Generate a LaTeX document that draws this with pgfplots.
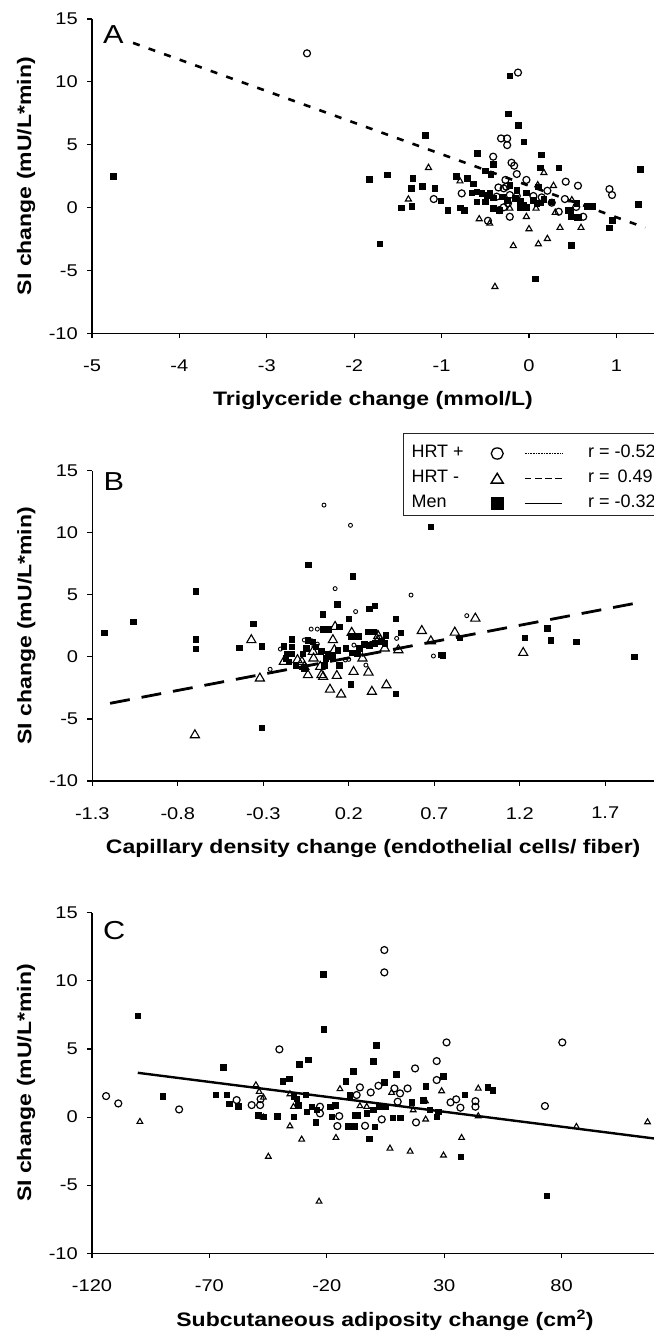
\documentclass[border=0pt]{standalone}
\usepackage{fontspec}
\setmainfont{Liberation Sans}[FakeStretch=1.18]
\newfontfamily\legfont{Liberation Sans}
\newcommand\lf{\legfont\fontsize{18bp}{20bp}\selectfont}
\usepackage{pgfplots}
\pgfplotsset{compat=1.18}
\usepackage{pgfplotstable}

% ---------------- Panel A ----------------
\pgfplotstableread{
x y
-2.54 12.27
-0.126 10.74
-0.32 5.5
-0.25 5.5
-0.25 4.97
-0.41 4.05
-0.2 3.57
-0.17 3.33
-0.14 2.67
-0.03 2.2
-0.27 2.2
-0.26 1.66
-0.35 1.6
-0.29 1.53
-0.37 0.87
-0.22 1.0
-0.14 0.92
-0.24 0.34
-0.29 0.02
0.05 0.92
0.145 0.81
0.21 1.34
0.26 0.39
0.34 -0.33
0.41 0.68
0.42 2.06
0.56 1.74
0.62 -0.73
-0.22 -0.73
-0.34 -0.2
-0.77 1.13
-1.09 0.68
-0.47 -1.05
0.92 1.47
0.95 1.0
0.54 0.05
}\AHRTp
\pgfplotstableread{
x y
-1.15 3.17
-1.38 0.66
-0.79 2.1
-0.57 -0.91
-0.45 -1.26
-0.39 -6.3
-0.18 -3.04
0 -1.7
0.107 -2.9
0.21 -2.48
0.355 -1.6
0.595 -1.6
0.08 -0.06
-0.03 -0.73
0.17 2.77
0.10 1.79
0.28 1.74
-0.22 -0.06
0.49 0.6
0.30 -0.4
}\AHRTm
\pgfplotstableread{
x y
-4.76 2.51
-0.22 10.48
-0.24 7.48
-0.126 6.55
-1.19 5.76
-0.06 5.25
-0.595 4.32
0.14 4.22
-0.41 3.45
-0.5 2.92
-0.44 2.64
0.34 3.18
0.13 3.18
1.27 3.05
-1.83 2.25
-1.62 2.6
-1.33 2.33
-1.35 1.54
-1.22 1.7
-1.08 1.54
-0.83 2.52
-0.71 2.33
-0.64 1.91
-1.46 0
-1.34 0.13
-1.01 0.56
-0.93 -0.19
-0.79 0
-0.74 -0.19
-1.71 -2.86
0.48 -2.97
0.07 -5.65
0.72 0.13
1.25 0.29
0.95 -1.0
0.92 -1.6
0.45 -0.2
0.55 -0.8
-0.656 1.18
-0.60 1.27
-0.54 1.13
-0.48 1.0
-0.45 1.18
-0.50 0.47
-0.60 0.47
-0.41 0.79
-0.31 0.87
-0.25 0.6
-0.16 0.73
-0.10 0.52
-0.065 0.2
-0.03 1.18
0.05 0.6
0.126 0.39
0.17 0.66
0.107 1.66
-0.41 -0.06
-0.34 -0.19
-0.10 0.02
-0.03 0.02
0.09 0.34
0.26 0.47
0.545 0.34
0.66 0.12
0.48 -0.72
0.565 -0.78
0.47 -0.19
-0.22 1.8
-0.14 1.4
}\AMen
\pgfplotstableread{
x y
-4.53 13.1
1.33 -1.6
}\ALine

% ---------------- Panel B ----------------
\pgfplotstableread{
x y
0.055 12.23
0.21 10.6
0.12 5.5
0.564 4.98
0.24 3.65
0.89 3.32
-0.2 0.63
-0.26 -1.0
-0.017 1.3
0.016 2.24
0.695 0.07
-0.06 1.36
-0.02 2.24
0.36 2.03
0.06 -0.74
0.3 -0.66
0.23 0.95
0.18 -0.25
0.2 -0.2
0.33 1.09
0.38 1.57
-0.004 0.87
0.016 1.03
0.48 1.49
}\BHRTp
\pgfplotstableread{
x y
-0.37 1.36
-0.70 -6.3
-0.32 -1.73
-0.074 -0.39
-0.006 -0.12
0.033 -0.79
0.05 -1.6
0.94 3.1
0.627 2.1
0.82 1.97
0.68 1.27
1.22 0.33
0.42 -2.27
0.335 -2.8
0.315 -1.25
0.155 -3.02
0.13 -1.52
0.09 -2.63
0.49 0.55
0.372 1.68
0.217 1.95
0.12 2.43
-0.039 -1.46
0.04 -1.46
0.228 -1.2
-0.06 -0.79
-0.18 -0.39
-0.1 -0.25
-0.01 0.42
0.116 0.55
0.107 1.36
0.088 0.01
0.37 1.36
0.41 0.69
0.28 -0.12
}\BHRTm
\pgfplotstableread{
x y
-1.23 1.94
-1.06 2.83
-0.694 5.3
-0.694 1.44
-0.694 0.68
-0.44 0.74
-0.36 2.65
-0.31 0.87
-0.31 -5.7
-0.18 0.87
-0.135 1.44
-0.135 0.82
-0.135 0.28
-0.037 7.45
-0.07 0.28
-0.06 -0.93
0.047 3.45
0.04 0.5
0.68 10.49
0.222 6.51
0.133 4.26
0.2 3.1
0.32 3.86
0.353 4.13
0.475 3.1
0.85 1.57
0.74 0.2
0.75 0.15
1.23 1.57
1.36 2.3
1.38 1.36
1.53 1.22
1.87 0.01
0.505 1.97
0.475 -2.96
0.21 -2.2
0.145 2.43
0.05 2.24
0.08 2.24
0.215 1.68
0.254 1.68
0.31 2.03
0.347 2.03
-0.039 1.36
-0.01 1.22
-0.05 0.69
0.007 0.82
0.036 0.42
0.075 0.28
0.104 0.15
0.065 -0.12
0.134 0.55
0.183 0.69
0.22 0.34
0.25 0.28
0.26 0.69
0.29 1.03
0.32 0.95
0.35 1.09
0.39 1.22
0.415 1.76
0.41 1.09
0.144 -0.66
0.056 -0.66
-0.16 0.28
-0.15 -0.39
-0.11 -0.66
-0.17 -0.12
}\BMen
\pgfplotstableread{
x y
-1.196 -3.74
1.922 4.44
}\BLine

% ---------------- Panel C ----------------
\pgfplotstableread{
x y
-114 1.54
-108.8 1.0
-82.9 0.56
-58.4 1.25
-52 0.88
-48.4 0.88
-48.2 1.32
-40.2 4.97
-22.9 0.76
-22.9 0.27
4.5 12.26
4.5 10.62
31.0 5.48
80.3 5.48
26.8 4.11
26.8 2.72
17.6 3.57
72.9 0.81
43.3 1.17
43.3 0.76
36.9 0.69
35.1 1.3
32.7 1.08
14.4 2.1
11.2 1.74
8.8 2.1
10.2 1.13
2.0 2.3
-1.3 1.81
-5.9 2.18
-7.3 1.62
-14.7 0.07
-15.5 -0.66
-3.7 -0.64
3.4 -0.17
18.0 -0.39
}\CHRTp
\pgfplotstableread{
x y
-99.6 -0.34
-50.2 2.35
-48.8 1.86
-47.0 1.44
-47.0 -0.02
-44.9 -2.9
-35.7 -0.66
-30.7 -1.64
-23.3 -6.2
-35.7 1.69
-34.2 0.76
-14.4 2.06
-5.9 0.81
7.6 1.79
28.9 1.91
44.5 2.1
22.0 1.17
22.1 -0.17
16.8 0.51
37.4 -1.52
29.7 -2.81
15.5 -2.52
6.9 -2.3
-16.1 -1.52
86.3 -0.71
116.6 -0.37
44.5 0.07
-3.0 0.76
}\CHRTm
\pgfplotstableread{
x y
-100.6 7.42
-89.9 1.54
-64.1 3.65
-67.2 1.66
-62.6 1.66
-61.5 1.0
-57.7 0.8
-49.2 0.15
-47 0.02
-41.1 0.07
-38.9 2.62
-36 2.81
-31.7 3.89
-27.9 4.23
-34.2 1.54
-32.8 1.37
-34.2 0.02
-32.1 0.88
-29 1.66
-26.4 0.76
-28.6 0.39
-24.3 0.56
-24.8 -0.39
-21.5 10.48
-21.2 6.46
1.1 5.29
-0.2 4.11
-8.8 3.38
-11.9 2.64
9.5 3.16
4.4 2.55
22.2 2.28
29.6 3.01
38.8 1.66
48.4 2.18
50.6 1.98
37.1 -2.91
73.6 -5.78
-18.6 0.76
-16.5 0.88
-17.9 0.02
-10.3 1.62
-8.2 0.15
-6.8 0.15
-3.0 0.27
-1.9 -1.57
0.5 -0.71
-10.9 -0.66
-8.2 -0.66
-0.2 0.56
4.8 0.76
8.0 -0.05
11.2 -0.05
16.1 1.08
21.1 1.25
23.9 0.56
26.8 0.02
27.5 0.39
2.0 0.76
}\CMen
\pgfplotstableread{
x y
-100.5 3.25
119.4 -1.57
}\CLine

\tikzset{panellabel/.style={anchor=north west, inner sep=0bp, font=\fontsize{26bp}{28bp}\selectfont}}
\pgfplotsset{
  panel/.style={
    scale only axis,
    axis x line*=bottom,
    axis y line*=left,
    ymin=-10, ymax=15,
    ytick={-10,-5,0,5,10,15},
    yticklabels={-10,-5,0,5,10,15},
    tick align=outside,
    major tick length=5bp,
    every tick/.style={black, line width=1.1bp},
    axis line style={black, line width=1.2bp},
    tick label style={font=\fontsize{17bp}{20bp}\selectfont, inner sep=0bp},
    yticklabel style={xshift=-9bp},
    xticklabel style={yshift=-21bp},
    ylabel={SI change (mU/L*min)},
    label style={font=\bfseries\fontsize{19.5bp}{23bp}\selectfont},
    ylabel style={at={(axis description cs:-0.1174,0.5)}, anchor=center},
    xlabel style={at={(axis description cs:0.5,0)}, anchor=center, yshift=-67bp},
    clip=false,
  },
  mHRTp/.style={only marks, forget plot, mark=o, mark options={black, fill=white, line width=1.2bp}},
  mHRTm/.style={only marks, forget plot, mark=triangle, mark options={black, fill=white, line width=1.1bp}},
  mMen/.style={only marks, forget plot, mark=square*, mark options={black, fill=black, line width=0.4bp}},
}

\begin{document}
\begin{tikzpicture}
\useasboundingbox (0,0) rectangle (654bp,-1335bp);

% ---------------- A ----------------
\begin{axis}[panel,
  at={(92bp,-333.3bp)}, anchor=south west,
  width=562bp, height=314.3bp,
  xmin=-5, xmax=1.43,
  xtick={-5,-4,-3,-2,-1,0,1},
  xticklabels={-5,-4,-3,-2,-1,0,1},
  xlabel={Triglyceride change (mmol/L)},
]
\addplot[forget plot, black, line width=2.6bp, dash pattern=on 7bp off 9.5bp] table {\ALine};
\addplot[mMen, mark size=2.8bp] table {\AMen};
\addplot[mHRTm, mark size=3.5bp] table {\AHRTm};
\addplot[mHRTp, mark size=3.5bp] table {\AHRTp};
\node[panellabel] at (rel axis cs:0.0196,0.981) {A};
\end{axis}

% ---------------- B ----------------
\begin{axis}[panel,
  at={(92.3bp,-781bp)}, anchor=south west,
  width=561.7bp, height=310.3bp,
  xmin=-1.3, xmax=1.985,
  xtick={-1.3,-0.8,-0.3,0.2,0.7,1.2,1.7},
  xticklabels={-1.3,-0.8,-0.3,0.2,0.7,1.2,1.7},
  xlabel={Capillary density change (endothelial cells/ fiber)},
  legend columns=2,
  legend cell align=left,
  legend style={at={(axis description cs:0.5537,1.1215)}, anchor=north west,
    draw=black!85, line width=1bp, inner xsep=0.5bp, inner ysep=4.3bp,
    row sep=9bp, column sep=0bp,
    nodes={inner sep=0bp, text height=12bp, text depth=4bp, font=\lf}},
]
\addplot[forget plot, black, line width=2.8bp, dash pattern=on 20bp off 12bp] table {\BLine};
\addplot[mMen, mark size=2.7bp] table {\BMen};
\addplot[mHRTm, mark size=5.3bp] table {\BHRTm};
\addplot[mHRTp, mark size=2.0bp, mark options={line width=0.9bp}] table {\BHRTp};
\node[panellabel] at (rel axis cs:0.0196,0.993) {B};

\addlegendimage{legend image code/.code={\path[draw=none,fill=none] (0bp,-8bp) rectangle (7.2bp,15.7bp);}}
\addlegendentry{\makebox[63bp][l]{\lf HRT +}}
\addlegendimage{legend image code/.code={
  \path[draw=none,fill=none] (0bp,-6bp) rectangle (113.7bp,6bp);
  \draw[black, line width=1.3bp] (22.7bp,0) ellipse (6bp and 5.6bp);
  \draw[black, line width=0.9bp, dash pattern=on 0.7bp off 0.9bp] (50.3bp,0) -- (87.7bp,0);}}
\addlegendentry{\makebox[66bp][l]{\lf r = -0.52}}
\addlegendimage{legend image code/.code={\path[draw=none,fill=none] (0bp,-1bp) rectangle (7.2bp,1bp);}}
\addlegendentry{\makebox[63bp][l]{\lf HRT -}}
\addlegendimage{legend image code/.code={
  \path[draw=none,fill=none] (0bp,-6bp) rectangle (113.7bp,6bp);
  \draw[black, line width=1.4bp, line join=miter] (16.7bp,-4.6bp) -- (28.7bp,-4.6bp) -- (22.7bp,5.2bp) -- cycle;
  \draw[black, line width=1.4bp, dash pattern=on 6.5bp off 3.7bp] (50.3bp,0) -- (87.7bp,0);}}
\addlegendentry{\makebox[66bp][l]{\lf r =\ \,0.49}}
\addlegendimage{legend image code/.code={
  \path[draw=none,fill=none] (0bp,-1bp) rectangle (7.2bp,1bp);}}
\addlegendentry{\makebox[63bp][l]{\lf Men}}
\addlegendimage{legend image code/.code={
  \path[draw=none,fill=none] (0bp,-6bp) rectangle (113.7bp,6bp);
  \fill[black] (16.9bp,-5.8bp) rectangle (28.5bp,5.8bp);
  \draw[black, line width=1.4bp] (50.3bp,0) -- (87.7bp,0);}}
\addlegendentry{\makebox[66bp][l]{\lf r = -0.32}}
\end{axis}

% ---------------- C ----------------
\begin{axis}[panel,
  at={(92bp,-1253.3bp)}, anchor=south west,
  width=562bp, height=340.6bp,
  xmin=-120, xmax=119.35,
  xtick={-120,-70,-20,30,80},
  xticklabels={-120,-70,-20,30,80},
  xlabel={Subcutaneous adiposity change (cm\textsuperscript{2})},
  xlabel style={xshift=12bp},
]
\addplot[forget plot, black, line width=2.4bp] table {\CLine};
\addplot[mMen, mark size=2.7bp] table {\CMen};
\addplot[mHRTm, mark size=3.3bp] table {\CHRTm};
\addplot[mHRTp, mark size=3.5bp] table {\CHRTp};
\node[panellabel] at (rel axis cs:0.0196,0.974) {C};
\end{axis}
\end{tikzpicture}
\end{document}
